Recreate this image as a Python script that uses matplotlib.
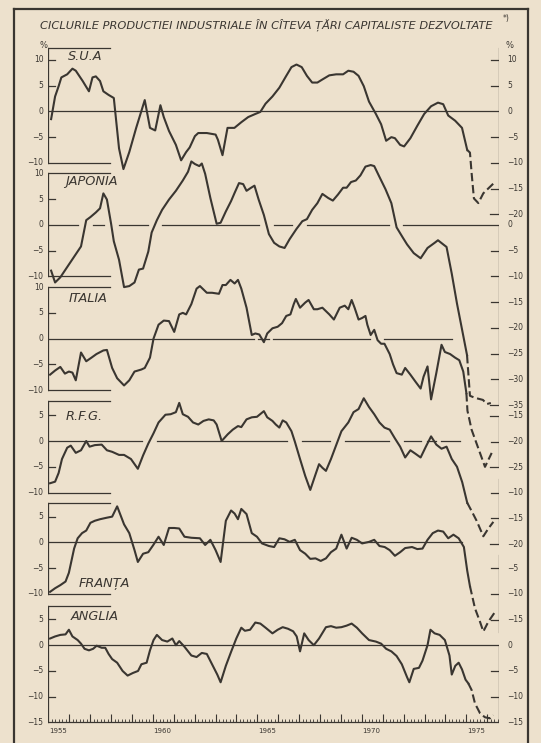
# Ciclurile productiei industriale in citeva tari capitaliste dezvoltate
import numpy as np
import matplotlib.pyplot as plt

# --- Date (abatere %, ani zecimali) ---
# S.U.A.
sua_ani = [1955.13, 1955.32, 1955.49, 1955.62, 1955.90, 1956.15, 1956.31, 1956.64, 1956.94,
           1957.11, 1957.27, 1957.47, 1957.63, 1957.88, 1958.13, 1958.38, 1958.59, 1958.87,
           1959.20, 1959.61, 1959.86, 1960.11, 1960.36, 1960.52, 1960.77, 1961.10, 1961.35,
           1961.59, 1961.76, 1962.01, 1962.17, 1962.58, 1963.00, 1963.11, 1963.33, 1963.57,
           1963.90, 1964.23, 1964.56, 1964.90, 1965.14, 1965.39, 1965.72, 1966.05, 1966.38,
           1966.63, 1966.87, 1967.12, 1967.37, 1967.62, 1967.87, 1968.11, 1968.44, 1968.77,
           1969.10, 1969.35, 1969.60, 1969.84, 1970.09, 1970.34, 1970.67, 1970.92, 1971.16,
           1971.41, 1971.58, 1971.83, 1972.02, 1972.32, 1972.65, 1972.98, 1973.31, 1973.64,
           1973.89, 1974.13, 1974.46, 1974.79, 1975.04]
sua_val = [-1.5, 2.9, 4.9, 6.6, 7.2, 8.3, 7.9, 5.9, 3.9,
           6.6, 6.8, 5.9, 3.9, 3.2, 2.6, -7.2, -11.2, -7.9,
           -3.2, 2.2, -3.2, -3.7, 1.2, -1.1, -3.8, -6.5, -9.5,
           -7.9, -7.0, -4.8, -4.2, -4.2, -4.5, -5.5, -8.5, -3.2,
           -3.2, -2.1, -1.1, -0.5, -0.1, 1.5, 2.9, 4.6, 6.9,
           8.6, 9.1, 8.6, 6.9, 5.6, 5.6, 6.2, 7.0, 7.2,
           7.2, 7.9, 7.7, 6.9, 4.9, 1.9, -0.5, -2.5, -5.7,
           -5.0, -5.2, -6.5, -6.8, -5.2, -2.8, -0.5, 1.0, 1.7,
           1.4, -0.8, -1.8, -3.2, -7.5]
sua_ani_p = [1975.17, 1975.25, 1975.36, 1975.57, 1975.81, 1976.37]
sua_val_p = [-8.0, -12.0, -16.9, -17.8, -15.9, -13.7]

# Japonia
jap_ani = [1955.13, 1955.32, 1955.57, 1955.90, 1956.23, 1956.56, 1956.81, 1957.01, 1957.27,
           1957.47, 1957.63, 1957.80, 1958.00, 1958.13, 1958.38, 1958.62, 1958.87, 1959.12,
           1959.33, 1959.53, 1959.78, 1959.94, 1960.19, 1960.44, 1960.77, 1961.10, 1961.43,
           1961.68, 1961.84, 1962.01, 1962.22, 1962.34, 1962.50, 1962.75, 1963.05, 1963.24,
           1963.49, 1963.74, 1963.91, 1964.12, 1964.32, 1964.48, 1964.70, 1964.86, 1965.06,
           1965.31, 1965.55, 1965.80, 1966.05, 1966.30, 1966.54, 1966.87, 1967.15, 1967.37,
           1967.62, 1967.87, 1968.11, 1968.39, 1968.61, 1968.86, 1969.10, 1969.27, 1969.48,
           1969.71, 1969.93, 1970.17, 1970.42, 1970.59, 1970.84, 1971.13, 1971.41, 1971.66,
           1971.96, 1972.16, 1972.48, 1972.81, 1973.14, 1973.48, 1973.64, 1973.89, 1974.05,
           1974.30, 1974.55, 1974.80, 1975.03]
jap_val = [-8.9, -11.2, -10.2, -8.2, -6.2, -4.2, 0.9, 1.5, 2.4,
           3.2, 6.1, 4.9, 0.2, -3.2, -6.8, -12.1, -11.9, -11.2,
           -8.7, -8.5, -5.2, -1.5, 0.9, 2.9, 4.9, 6.6, 8.6,
           10.3, 12.3, 11.8, 11.4, 11.9, 9.9, 5.2, 0.2, 0.4,
           2.6, 4.6, 6.2, 8.1, 7.9, 6.6, 7.2, 7.6, 4.9,
           1.9, -1.8, -3.5, -4.2, -4.5, -2.8, -0.8, 0.7, 1.1,
           2.9, 4.2, 6.0, 5.2, 4.7, 5.9, 7.2, 7.2, 8.3,
           8.6, 9.6, 11.3, 11.6, 11.4, 9.3, 6.9, 4.2, -0.5,
           -2.5, -3.8, -5.5, -6.5, -4.5, -3.5, -3.0, -3.8, -4.3,
           -9.5, -15.3, -20.5, -25.3]
jap_ani_p = [1975.17, 1975.41, 1975.60, 1975.79, 1975.98, 1976.17]
jap_val_p = [-33.2, -33.6, -33.8, -34.0, -34.8, -34.6]

# Italia
ita_ani = [1955.08, 1955.32, 1955.57, 1955.79, 1955.98, 1956.15, 1956.31, 1956.56, 1956.81,
           1957.06, 1957.30, 1957.63, 1957.80, 1958.05, 1958.29, 1958.62, 1958.87, 1959.12,
           1959.45, 1959.61, 1959.86, 1960.03, 1960.27, 1960.52, 1960.77, 1961.02, 1961.26,
           1961.43, 1961.59, 1961.84, 1962.09, 1962.25, 1962.58, 1962.83, 1963.16, 1963.33,
           1963.49, 1963.71, 1963.91, 1964.07, 1964.23, 1964.48, 1964.73, 1964.90, 1965.09,
           1965.31, 1965.47, 1965.72, 1965.97, 1966.18, 1966.38, 1966.58, 1966.74, 1966.84,
           1967.04, 1967.29, 1967.45, 1967.70, 1967.87, 1968.11, 1968.44, 1968.66, 1968.94,
           1969.18, 1969.35, 1969.51, 1969.65, 1969.84, 1970.01, 1970.17, 1970.26, 1970.42,
           1970.59, 1970.75, 1970.92, 1971.08, 1971.33, 1971.49, 1971.66, 1971.91, 1972.07,
           1972.32, 1972.57, 1972.81, 1972.95, 1973.14, 1973.31, 1973.56, 1973.81, 1973.97,
           1974.22, 1974.46, 1974.66, 1974.85, 1975.00]
ita_val = [-7.0, -6.2, -5.5, -6.8, -6.4, -6.6, -8.1, -2.7, -4.4,
           -3.7, -3.0, -2.3, -2.2, -5.7, -7.7, -9.1, -8.1, -6.4,
           -6.0, -5.7, -3.7, 0.0, 2.7, 3.5, 3.4, 1.3, 4.7,
           5.0, 4.7, 6.7, 9.7, 10.2, 8.9, 8.9, 8.7, 10.4,
           10.4, 11.4, 10.7, 11.4, 9.7, 6.0, 0.7, 1.0, 0.8,
           -0.7, 1.0, 2.0, 2.3, 3.0, 4.4, 4.7, 6.7, 7.7,
           6.0, 7.0, 7.5, 5.7, 5.7, 6.0, 4.7, 3.7, 6.0,
           6.4, 5.7, 7.5, 6.0, 3.7, 4.0, 4.4, 2.7, 0.7,
           1.7, -0.3, -1.0, -1.0, -3.0, -5.0, -6.7, -7.0, -5.7,
           -7.0, -8.4, -9.7, -7.4, -5.4, -11.8, -6.7, -1.2, -2.6,
           -3.0, -3.7, -4.2, -6.4, -10.6]
ita_ani_p = [1975.05, 1975.25, 1975.65, 1975.89, 1976.21]
ita_val_p = [-14.0, -17.7, -22.2, -24.9, -22.2]

# R.F.G.
rfg_ani = [1955.08, 1955.32, 1955.49, 1955.65, 1955.90, 1956.07, 1956.31, 1956.56, 1956.81,
           1956.97, 1957.22, 1957.55, 1957.80, 1958.05, 1958.38, 1958.62, 1958.95, 1959.28,
           1959.53, 1959.78, 1960.03, 1960.27, 1960.60, 1960.85, 1961.10, 1961.26, 1961.43,
           1961.68, 1961.92, 1962.17, 1962.42, 1962.67, 1962.91, 1963.05, 1963.29, 1963.58,
           1963.82, 1964.07, 1964.23, 1964.48, 1964.73, 1964.98, 1965.31, 1965.47, 1965.72,
           1965.88, 1966.05, 1966.21, 1966.38, 1966.63, 1966.79, 1967.04, 1967.29, 1967.53,
           1967.78, 1967.95, 1968.11, 1968.28, 1968.52, 1968.77, 1969.02, 1969.35, 1969.60,
           1969.84, 1970.09, 1970.34, 1970.59, 1970.84, 1971.08, 1971.33, 1971.58, 1971.83,
           1972.07, 1972.32, 1972.57, 1972.81, 1973.06, 1973.31, 1973.56, 1973.81, 1974.05,
           1974.30, 1974.55, 1974.80, 1975.04]
rfg_val = [-8.2, -7.9, -6.2, -3.5, -1.3, -0.9, -2.3, -1.8, 0.0,
           -1.1, -0.8, -0.7, -1.8, -2.1, -2.7, -2.7, -3.5, -5.4,
           -2.8, -0.5, 1.5, 3.6, 5.1, 5.2, 5.6, 7.4, 5.2,
           4.7, 3.6, 3.2, 3.9, 4.2, 4.0, 3.2, 0.0, 1.3,
           2.2, 2.9, 2.7, 4.2, 4.6, 4.7, 5.8, 4.6, 3.9,
           3.2, 2.6, 4.0, 3.6, 1.9, -0.1, -3.5, -6.8, -9.5,
           -6.5, -4.5, -5.2, -5.8, -3.5, -0.8, 1.9, 3.6, 5.6,
           6.2, 8.3, 6.6, 5.2, 3.6, 2.6, 2.2, 0.5, -1.1,
           -3.2, -1.8, -2.5, -3.2, -1.1, 0.9, -0.7, -1.5, -1.1,
           -3.5, -5.0, -8.0, -12.0]
rfg_ani_p = [1975.25, 1975.49, 1975.81, 1976.05, 1976.29]
rfg_val_p = [-13.6, -15.5, -18.5, -17.0, -15.7]

# Franta
fra_ani = [1955.08, 1955.32, 1955.57, 1955.82, 1955.98, 1956.23, 1956.40, 1956.61, 1956.81,
           1957.01, 1957.22, 1957.47, 1957.80, 1958.05, 1958.29, 1958.46, 1958.62, 1958.87,
           1959.12, 1959.28, 1959.53, 1959.78, 1960.02, 1960.27, 1960.52, 1960.77, 1961.02,
           1961.26, 1961.51, 1961.84, 1962.25, 1962.50, 1962.75, 1963.00, 1963.24, 1963.49,
           1963.74, 1963.91, 1964.07, 1964.23, 1964.48, 1964.73, 1964.98, 1965.22, 1965.55,
           1965.80, 1966.05, 1966.30, 1966.54, 1966.79, 1967.04, 1967.29, 1967.53, 1967.78,
           1968.03, 1968.28, 1968.52, 1968.77, 1969.02, 1969.27, 1969.51, 1969.76, 1970.01,
           1970.34, 1970.59, 1970.84, 1971.09, 1971.33, 1971.58, 1971.83, 1972.07, 1972.40,
           1972.65, 1972.90, 1973.14, 1973.39, 1973.64, 1973.89, 1974.13, 1974.38, 1974.63,
           1974.88, 1975.04, 1975.17]
fra_val = [-9.6, -8.9, -8.3, -7.6, -5.9, -1.2, 0.8, 1.8, 2.3,
           3.8, 4.2, 4.5, 4.8, 5.0, 7.0, 5.2, 3.5, 1.8,
           -1.5, -3.8, -2.2, -1.9, -0.5, 1.1, -0.5, 2.8, 2.8,
           2.7, 1.1, 0.9, 0.8, -0.5, 0.5, -1.5, -3.8, 4.2,
           6.2, 5.6, 4.5, 6.5, 5.5, 1.8, 1.1, -0.2, -0.7,
           -0.9, 0.8, 0.6, 0.1, 0.5, -1.5, -2.2, -3.2, -3.1,
           -3.6, -3.1, -1.9, -1.2, 1.5, -1.2, 0.9, 0.5, -0.2,
           0.1, 0.5, -0.7, -0.9, -1.5, -2.6, -1.9, -1.1, -0.9,
           -1.3, -1.2, 0.5, 1.8, 2.3, 2.1, 0.8, 1.5, 0.8,
           -0.9, -5.5, -8.5]
fra_ani_p = [1975.41, 1975.65, 1975.81, 1976.05, 1976.37]
fra_val_p = [-12.8, -15.4, -17.3, -15.4, -13.5]

# Anglia
ang_ani = [1955.08, 1955.32, 1955.57, 1955.82, 1955.98, 1956.15, 1956.40, 1956.56, 1956.73,
           1956.94, 1957.14, 1957.31, 1957.55, 1957.72, 1957.88, 1958.05, 1958.29, 1958.55,
           1958.79, 1959.04, 1959.29, 1959.45, 1959.70, 1959.86, 1960.03, 1960.19, 1960.44,
           1960.69, 1960.93, 1961.10, 1961.26, 1961.51, 1961.84, 1962.09, 1962.34, 1962.58,
           1962.83, 1963.08, 1963.24, 1963.49, 1963.74, 1963.99, 1964.23, 1964.40, 1964.65,
           1964.90, 1965.14, 1965.39, 1965.72, 1965.97, 1966.21, 1966.46, 1966.71, 1966.88,
           1967.04, 1967.24, 1967.45, 1967.70, 1967.95, 1968.28, 1968.52, 1968.77, 1969.02,
           1969.27, 1969.51, 1969.76, 1970.01, 1970.34, 1970.67, 1970.92, 1971.16, 1971.41,
           1971.66, 1971.91, 1972.16, 1972.27, 1972.48, 1972.73, 1972.90, 1973.14, 1973.28,
           1973.48, 1973.72, 1973.97, 1974.19, 1974.30, 1974.47, 1974.63, 1974.79, 1974.96,
           1975.09]
ang_val = [1.3, 1.7, 2.0, 2.1, 3.0, 1.7, 1.0, 0.3, -0.7,
           -1.0, -0.7, -0.1, -0.5, -0.5, -1.7, -2.7, -3.4, -5.0,
           -5.9, -5.4, -5.0, -3.7, -3.4, -1.0, 1.0, 2.0, 1.0,
           0.7, 1.3, 0.0, 0.8, -0.3, -2.0, -2.3, -1.5, -1.7,
           -3.7, -5.7, -7.2, -4.0, -1.3, 1.3, 3.4, 2.8, 3.0,
           4.4, 4.2, 3.4, 2.3, 3.0, 3.5, 3.2, 2.7, 1.7,
           -1.2, 2.3, 1.0, 0.0, 1.3, 3.5, 3.7, 3.4, 3.5,
           3.8, 4.2, 3.4, 2.3, 1.0, 0.7, 0.3, -0.7, -1.2,
           -2.1, -3.7, -6.2, -7.2, -4.6, -4.4, -3.0, 0.0, 3.0,
           2.3, 2.0, 1.0, -2.0, -5.7, -4.0, -3.4, -4.7, -6.7,
           -7.4]
ang_ani_p = [1975.25, 1975.41, 1975.65, 1975.89, 1976.13, 1976.29]
ang_val_p = [-8.7, -11.3, -13.2, -14.0, -14.2, -13.6]

ani_etichete = [1955, 1960, 1965, 1970, 1975]

# --- Pagina ---
W, H = 541, 743
hartie = '#ede1cd'
ink = '#3a3631'

fig = plt.figure(figsize=(W / 100, H / 100), dpi=100)
fig.patch.set_facecolor(hartie)

# axa de fundal in pixeli (chenar, titlu, nume)
fond = fig.add_axes([0, 0, 1, 1])
fond.set_xlim(0, W)
fond.set_ylim(H, 0)
fond.axis('off')
fond.plot([14, 14], [9, H], color=ink, lw=1.6)
fond.plot([528, 528], [9, H], color=ink, lw=1.6)
fond.plot([14, 528], [9, 9], color=ink, lw=1.6)
fond.text(266, 25, 'CICLURILE PRODUCTIEI INDUSTRIALE ÎN CÎTEVA ȚĂRI CAPITALISTE DEZVOLTATE',
          ha='center', va='center', fontsize=8.2, style='italic', color=ink)
fond.text(506, 19, '*)', ha='center', va='center', fontsize=5.5, color=ink)
fond.text(44, 45, '%', ha='center', va='center', fontsize=6, color=ink)
fond.text(509, 45, '%', ha='center', va='center', fontsize=6, color=ink)

# scara comuna: ani pe orizontala, procente pe verticala
X0, X1 = 1955.0, 1976.56
PX0, PX1 = 48.4, 499.0
SUS, JOS = 38, 730
S = 5.15                       # pixeli pe procent
dx = (X1 - X0) / (PX1 - PX0)   # ani pe pixel
dy = 1 / S


def eticheta(v):
    return '0' if v == 0 else (str(v) if v > 0 else '\u2212' + str(-v))


def treceri(ani, val):
    # punctele unde curba taie linia de zero
    a, v = np.array(ani), np.array(val)
    i = np.where(np.sign(v[:-1]) * np.sign(v[1:]) < 0)[0]
    return a[i] - v[i] * (a[i + 1] - a[i]) / (v[i + 1] - v[i])


def panou(zero, ani, val, ani_p, val_p, sus, jos, stg, zero_end, dreapta, goluri=False):
    ax = fig.add_axes([PX0 / W, 1 - JOS / H, (PX1 - PX0) / W, (JOS - SUS) / H])
    ax.set_xlim(X0, X1)
    ax.set_ylim(-(JOS - zero) / S, (zero - SUS) / S)
    ax.axis('off')
    kw = dict(color=ink, lw=0.9)

    # axa din stinga cu "paranteze"
    ax.plot([X0, X0], [jos, sus], **kw)
    ax.plot([X0, X0 + 62 * dx], [sus, sus], **kw)
    if jos > -15:
        ax.plot([X0, X0 + 62 * dx], [jos, jos], **kw)
    for v in stg:
        if v not in (0, jos, sus):
            ax.plot([X0, X0 + 7 * dx], [v, v], **kw)
        ax.text(X0 - 5 * dx, v, eticheta(v), ha='right', va='center', fontsize=5.5, color=ink)

    # linia de zero, intrerupta unde o taie curba
    capete = [X0]
    if goluri:
        for t in treceri(ani, val):
            if X0 + 1 < t < zero_end - 0.5:
                capete += [t - 0.35, t + 0.35]
    capete.append(zero_end)
    for a, b in zip(capete[::2], capete[1::2]):
        ax.plot([a, b], [0, 0], **kw)

    # axele din dreapta (scari de continuare)
    for d in dreapta:
        ax.plot([X1, X1], [d['jos'], d['sus']], **kw)
        for v in d['cap']:
            ax.plot([X1 - 9 * dx, X1], [v, v], **kw)
        for v in d['tic']:
            ax.plot([X1 - 8 * dx, X1 + 4 * dx], [v, v], **kw)
        for v in d['et']:
            ax.text(X1 + 8 * dx, v, eticheta(v), ha='left', va='center', fontsize=5.5, color=ink)

    # curba: continua + estimari intrerupte
    ax.plot(ani, val, color=ink, lw=1.5, solid_joinstyle='round')
    ax.plot([ani[-1]] + ani_p, [val[-1]] + val_p, color=ink, lw=1.5,
            ls=(0, (4, 1.8)), dash_joinstyle='round')
    return ax


Z_SUA, Z_JAP, Z_ITA, Z_RFG, Z_FRA, Z_ANG = 111.4, 224.8, 338.6, 441.0, 542.4, 645.2

panou(Z_SUA, sua_ani, sua_val, sua_ani_p, sua_val_p, 12.3, -10, [10, 5, 0, -5, -10], X1,
      [dict(sus=12.3, jos=-20, cap=[-20], tic=[10, 5, -5, -10, -15],
            et=[10, 5, 0, -5, -10, -15, -20])])
panou(Z_JAP, jap_ani, jap_val, jap_ani_p, jap_val_p, 10, -10, [10, 5, 0, -5, -10], X1,
      [dict(sus=0, jos=-35, cap=[-35], tic=[-5, -10, -15, -20, -25, -30],
            et=[0, -5, -10, -15, -20, -25, -30, -35])], goluri=True)
panou(Z_ITA, ita_ani, ita_val, ita_ani_p, ita_val_p, 10, -10, [10, 5, 0, -5, -10], 1974.32,
      [dict(sus=-15, jos=-25, cap=[-15, -25], tic=[-20], et=[-15, -20, -25])], goluri=True)
panou(Z_RFG, rfg_ani, rfg_val, rfg_ani_p, rfg_val_p, 7.7, -10, [5, 0, -5, -10], 1974.70,
      [dict(sus=-7.3, jos=-20, cap=[-20], tic=[-10, -15], et=[-10, -15, -20])], goluri=True)
panou(Z_FRA, fra_ani, fra_val, fra_ani_p, fra_val_p, 7.6, -10, [5, 0, -5, -10], 1974.80,
      [dict(sus=-2.4, jos=-17.4, cap=[], tic=[-5, -10, -15], et=[-5, -10, -15])])
ax_ang = panou(Z_ANG, ang_ani, ang_val, ang_ani_p, ang_val_p, 7.7, -15, [5, 0, -5, -10, -15], X1,
               [dict(sus=0, jos=-15, cap=[], tic=[-5, -10], et=[0, -5, -10, -15])])

# axa timpului (jos)
ax_ang.plot([X0, X1], [-15, -15], color=ink, lw=0.9)
luni = np.arange(X0 + 1 / 6, X1, 1 / 6)
ax_ang.vlines(luni, -15, -15 + 3.5 * dy, color=ink, lw=0.6)
ax_ang.vlines(np.arange(1956, 1977), -15, -15 + 8 * dy, color=ink, lw=0.8)
for an in ani_etichete:
    ax_ang.text(an + 0.45, -15 - 9 * dy, str(an), ha='center', va='center', fontsize=5, color=ink)

# numele tarilor
for nume, x, y in [('S.U.A', 68, 57), ('JAPONIA', 65, 182), ('ITALIA', 69, 299),
                   ('R.F.G.', 66, 416), ('FRANȚA', 79, 584), ('ANGLIA', 71, 617)]:
    fond.text(x, y, nume, ha='left', va='center', fontsize=9.3, style='italic', color=ink)

fig.savefig('out.png', dpi=100, facecolor=hartie)
